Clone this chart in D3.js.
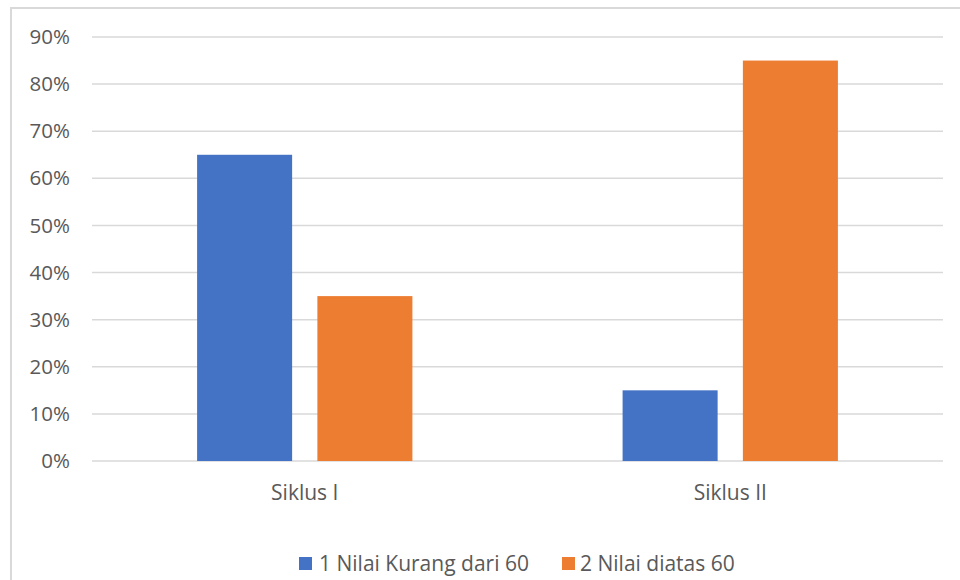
<!DOCTYPE html>
<html>
<head>
<meta charset="utf-8">
<script src="https://cdn.jsdelivr.net/npm/d3@7"></script>
<style>
  body { margin: 0; background: #fff; }
  text { font-family: "Open Sans", "Noto Sans", sans-serif; fill: #595959; }
</style>
</head>
<body>
<script>
const categories = ["Siklus I", "Siklus II"];
const seriesNames = ["1 Nilai Kurang dari 60", "2 Nilai diatas 60"];
const kurang = [0.65, 0.15];
const diatas = [0.35, 0.85];
const yTicks = [0, 0.1, 0.2, 0.3, 0.4, 0.5, 0.6, 0.7, 0.8, 0.9];
const colors = ["#4472C4", "#ED7D31"];

const width = 960, height = 580;
const fontStack = '"Open Sans", "Noto Sans", sans-serif';
const svg = d3.select("body").append("svg")
  .attr("width", width)
  .attr("height", height);

// chart border
svg.append("rect")
  .attr("x", 11).attr("y", 8)
  .attr("width", 960).attr("height", 600)
  .attr("fill", "none")
  .attr("stroke", "#d9d9d9")
  .attr("stroke-width", 2);

const plotLeft = 92, plotRight = 943, plotTop = 37, plotBottom = 461;

const y = d3.scaleLinear().domain([0, 0.9]).range([plotBottom, plotTop]);
const x0 = d3.scaleBand().domain(categories).range([plotLeft, plotRight]);
const x1 = d3.scaleBand().domain(seriesNames)
  .range([x0.bandwidth() * 0.247, x0.bandwidth() * 0.753])
  .paddingInner(0.21);

// gridlines
svg.append("g").selectAll("line")
  .data(yTicks)
  .join("line")
  .attr("x1", plotLeft).attr("x2", plotRight)
  .attr("y1", d => y(d)).attr("y2", d => y(d))
  .attr("stroke", "#d9d9d9")
  .attr("stroke-width", 1.5);

// y axis labels
const yAxis = d3.axisLeft(y).tickValues(yTicks).tickFormat(d3.format(".0%")).tickSize(0).tickPadding(0);
svg.append("g")
  .attr("transform", `translate(70,0)`)
  .call(yAxis)
  .call(g => g.select(".domain").remove())
  .selectAll("text")
  .attr("font-size", 20.5)
  .style("fill", "#595959")
  .style("font-family", fontStack);

// bars
const rows = categories.map((c, i) => ({ cat: c, vals: [kurang[i], diatas[i]] }));
const groups = svg.append("g").selectAll("g")
  .data(rows)
  .join("g")
  .attr("transform", d => `translate(${x0(d.cat)},0)`);

groups.selectAll("rect")
  .data(d => d.vals.map((v, j) => ({ name: seriesNames[j], v, j })))
  .join("rect")
  .attr("x", d => x1(d.name))
  .attr("width", x1.bandwidth())
  .attr("y", d => y(d.v))
  .attr("height", d => y(0) - y(d.v))
  .attr("fill", d => colors[d.j]);

// category labels
const xAxis = d3.axisBottom(x0).tickSize(0).tickPadding(0);
svg.append("g")
  .attr("transform", `translate(0,${plotBottom + 39})`)
  .call(xAxis)
  .call(g => g.select(".domain").remove())
  .selectAll("text")
  .attr("dy", 0)
  .attr("font-size", 21)
  .style("fill", "#595959")
  .style("font-family", fontStack);

// legend
const legendX = [299, 562];
const legend = svg.append("g").selectAll("g")
  .data(seriesNames)
  .join("g")
  .attr("transform", (d, i) => `translate(${legendX[i]},557)`);
legend.append("rect")
  .attr("width", 13).attr("height", 13)
  .attr("fill", (d, i) => colors[i]);
legend.append("text")
  .attr("x", (d, i) => i === 0 ? 20 : 18).attr("y", 14)
  .attr("font-size", 21)
  .text(d => d);
</script>
</body>
</html>
